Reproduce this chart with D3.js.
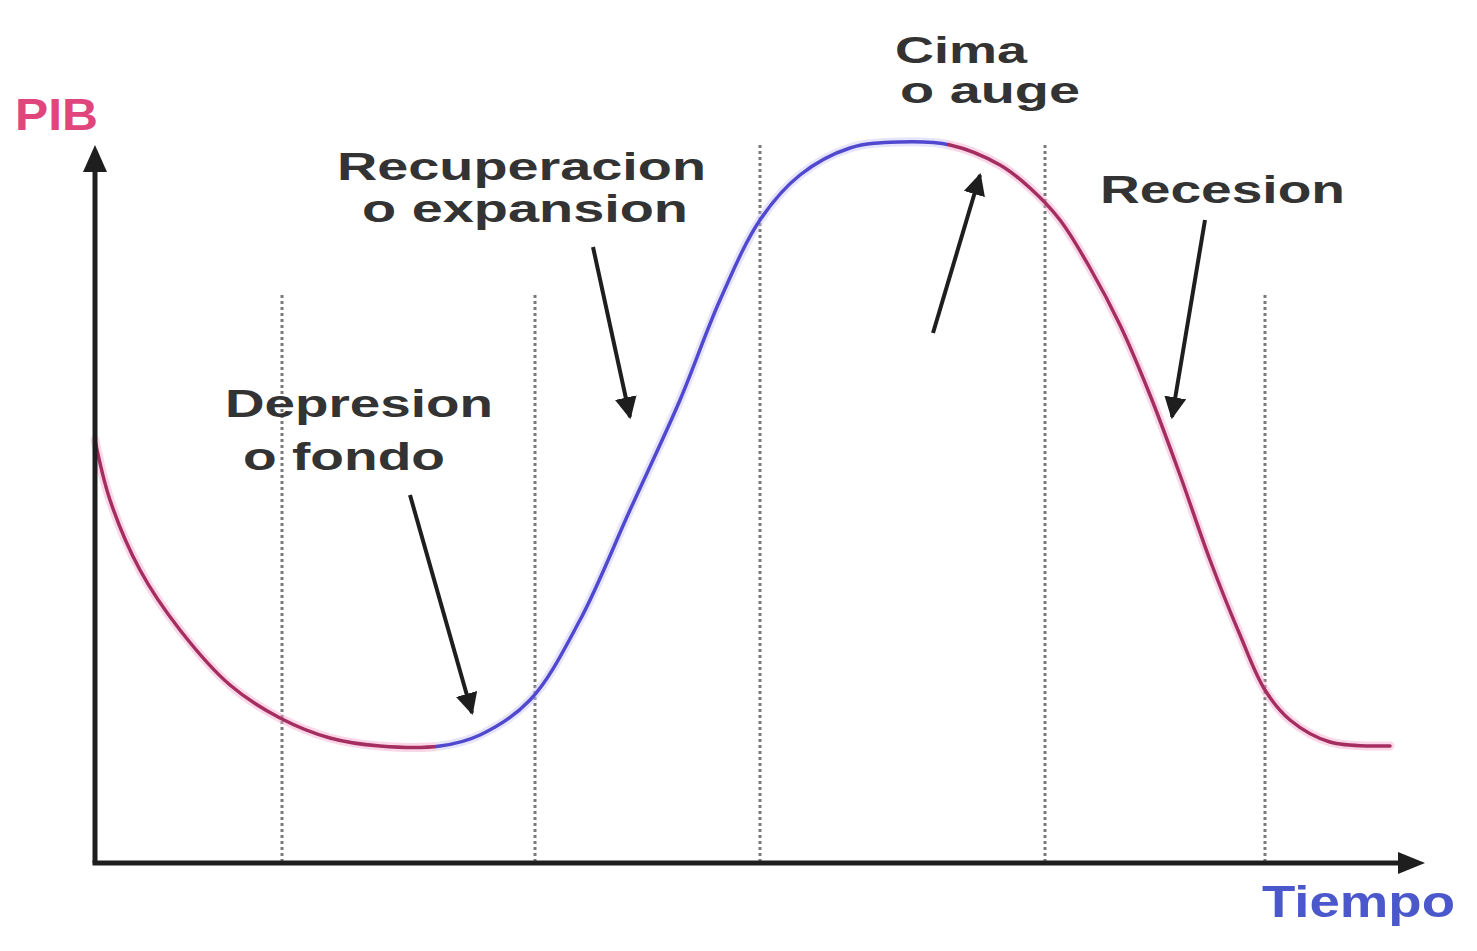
<!DOCTYPE html>
<html>
<head>
<meta charset="utf-8">
<script src="https://cdn.jsdelivr.net/npm/d3@7"></script>
<style>
  html, body { margin: 0; padding: 0; background: #fff; }
  svg { display: block; }
</style>
</head>
<body>
<svg id="chart" width="1477" height="951"></svg>
<script>
// ---- data (time units, PIB units) ----
const tiempo = [0, 0.15, 0.45, 0.85, 1.35, 1.85, 2.35, 2.85, 3.45, 3.85, 4.35, 4.85, 5.35, 5.85, 6.25, 6.65, 7.05, 7.55, 8.05, 8.55, 9.05, 9.35, 9.65, 9.95, 10.25, 10.55, 10.85, 11.15, 11.45, 11.70, 11.95, 12.35, 12.95];
const pib    = [4.23, 3.63, 2.93, 2.33, 1.78, 1.45, 1.25, 1.17, 1.17, 1.28, 1.63, 2.43, 3.53, 4.63, 5.63, 6.43, 6.88, 7.15, 7.21, 7.18, 6.98, 6.75, 6.43, 5.95, 5.38, 4.68, 3.88, 3.03, 2.28, 1.73, 1.43, 1.21, 1.17];

// phase boundaries (dotted lines): time and top of line
const limites    = [1.87, 4.40, 6.65, 9.50, 11.70];
const limiteTope = [5.68, 5.68, 7.18, 7.18, 5.68];

// colour phases along time
const fases = [
  { desde: 0,    hasta: 3.40, color: "#a52e60", halo: "#f4a6cc" },
  { desde: 3.40, hasta: 8.52, color: "#5049cf", halo: "#c8c4f4" },
  { desde: 8.52, hasta: 13.3, color: "#a52e60", halo: "#f4a6cc" }
];

// phase labels
const etiquetas = ["Recuperacion", "o expansion", "Depresion", "o fondo", "Cima", "o auge", "Recesion"];
const etqT      = [4.265, 4.30, 2.64, 2.49, 8.66, 8.95, 11.275];
const etqV      = [6.83, 6.41, 4.46, 3.93, 8.00, 7.60, 6.60];
const etqAncho  = [369, 326, 268, 202, 132, 180, 245];
const etqTam    = [39, 39, 39, 39, 37, 37, 39];

// annotation arrows: from (t0,v0) to (t1,v1)
const flechaT0 = [3.15, 4.98, 8.38, 11.10];
const flechaV0 = [3.68, 6.16, 5.30, 6.43];
const flechaT1 = [3.77, 5.35, 8.85, 10.77];
const flechaV1 = [1.50, 4.46, 6.88, 4.46];

// ---- scales ----
const svg = d3.select("#chart");
const x = d3.scaleLinear().domain([0, 13.3]).range([95, 1425]);
const y = d3.scaleLinear().domain([0, 7.18]).range([863, 145]);

const defs = svg.append("defs");
defs.append("marker")
  .attr("id", "punta")
  .attr("viewBox", "0 0 10 10")
  .attr("refX", 9).attr("refY", 5)
  .attr("markerUnits", "userSpaceOnUse")
  .attr("markerWidth", 22).attr("markerHeight", 22)
  .attr("orient", "auto")
  .append("path").attr("d", "M0,0 L10,5 L0,10 Z").attr("fill", "#1e1e1e");

function gradiente(id, key) {
  const g = defs.append("linearGradient").attr("id", id)
    .attr("gradientUnits", "userSpaceOnUse")
    .attr("x1", x(0)).attr("x2", x(13.3)).attr("y1", 0).attr("y2", 0);
  fases.forEach(f => {
    g.append("stop").attr("offset", f.desde / 13.3).attr("stop-color", f[key]);
    g.append("stop").attr("offset", f.hasta / 13.3).attr("stop-color", f[key]);
  });
}
gradiente("gradLinea", "color");
gradiente("gradHalo", "halo");

// ---- dotted phase boundaries ----
svg.append("g").selectAll("line").data(limites).join("line")
  .attr("x1", d => x(d)).attr("x2", d => x(d))
  .attr("y1", (d, i) => y(limiteTope[i])).attr("y2", y(0))
  .attr("stroke", "#7a7a7a").attr("stroke-width", 3)
  .attr("stroke-dasharray", "3,3");

// ---- curve ----
const puntos = tiempo.map((t, i) => [t, pib[i]]);
const linea = d3.line().x(d => x(d[0])).y(d => y(d[1])).curve(d3.curveCatmullRom.alpha(0.5));
svg.append("path").attr("d", linea(puntos)).attr("fill", "none")
  .attr("stroke", "url(#gradHalo)").attr("stroke-width", 9).attr("stroke-opacity", 0.45)
  .attr("stroke-linecap", "round");
svg.append("path").attr("d", linea(puntos)).attr("fill", "none")
  .attr("stroke", "url(#gradLinea)").attr("stroke-width", 3.5)
  .attr("stroke-linecap", "round");

// ---- axes ----
const ejes = svg.append("g");
ejes.append("line")
  .attr("x1", x(0)).attr("y1", y(0)).attr("x2", x(0)).attr("y2", y.range()[1] + 20)
  .attr("stroke", "#1e1e1e").attr("stroke-width", 5);
ejes.append("path")
  .attr("d", `M${x(0)},${y.range()[1]} L${x(0) - 12},${y.range()[1] + 27} L${x(0) + 12},${y.range()[1] + 27} Z`)
  .attr("fill", "#1e1e1e");
ejes.append("line")
  .attr("x1", x(0) - 2.5).attr("y1", y(0)).attr("x2", x.range()[1] - 20).attr("y2", y(0))
  .attr("stroke", "#1e1e1e").attr("stroke-width", 5);
ejes.append("path")
  .attr("d", `M${x.range()[1]},${y(0)} L${x.range()[1] - 27},${y(0) - 11} L${x.range()[1] - 27},${y(0) + 11} Z`)
  .attr("fill", "#1e1e1e");

// axis titles
svg.append("text").text("PIB")
  .attr("x", x(-0.80)).attr("y", y(7.33))
  .attr("textLength", 83).attr("lengthAdjust", "spacingAndGlyphs")
  .attr("font-family", "Liberation Sans, Arial, sans-serif").attr("font-weight", "bold")
  .attr("font-size", 44).attr("fill", "#e0457c");
svg.append("text").text("Tiempo")
  .attr("x", x(11.67)).attr("y", y(-0.54))
  .attr("textLength", 193).attr("lengthAdjust", "spacingAndGlyphs")
  .attr("font-family", "Liberation Sans, Arial, sans-serif").attr("font-weight", "bold")
  .attr("font-size", 44).attr("fill", "#4a58cc");

// ---- labels ----
svg.append("g").selectAll("text").data(etiquetas).join("text")
  .text(d => d)
  .attr("x", (d, i) => x(etqT[i]) - etqAncho[i] / 2)
  .attr("y", (d, i) => y(etqV[i]))
  .attr("textLength", (d, i) => etqAncho[i]).attr("lengthAdjust", "spacingAndGlyphs")
  .attr("font-family", "Liberation Sans, Arial, sans-serif").attr("font-weight", "bold")
  .attr("font-size", (d, i) => etqTam[i]).attr("fill", "#333333");

// ---- arrows ----
svg.append("g").selectAll("line").data(flechaT0).join("line")
  .attr("x1", (d, i) => x(flechaT0[i])).attr("y1", (d, i) => y(flechaV0[i]))
  .attr("x2", (d, i) => x(flechaT1[i])).attr("y2", (d, i) => y(flechaV1[i]))
  .attr("stroke", "#1e1e1e").attr("stroke-width", 4)
  .attr("marker-end", "url(#punta)");
</script>
</body>
</html>
